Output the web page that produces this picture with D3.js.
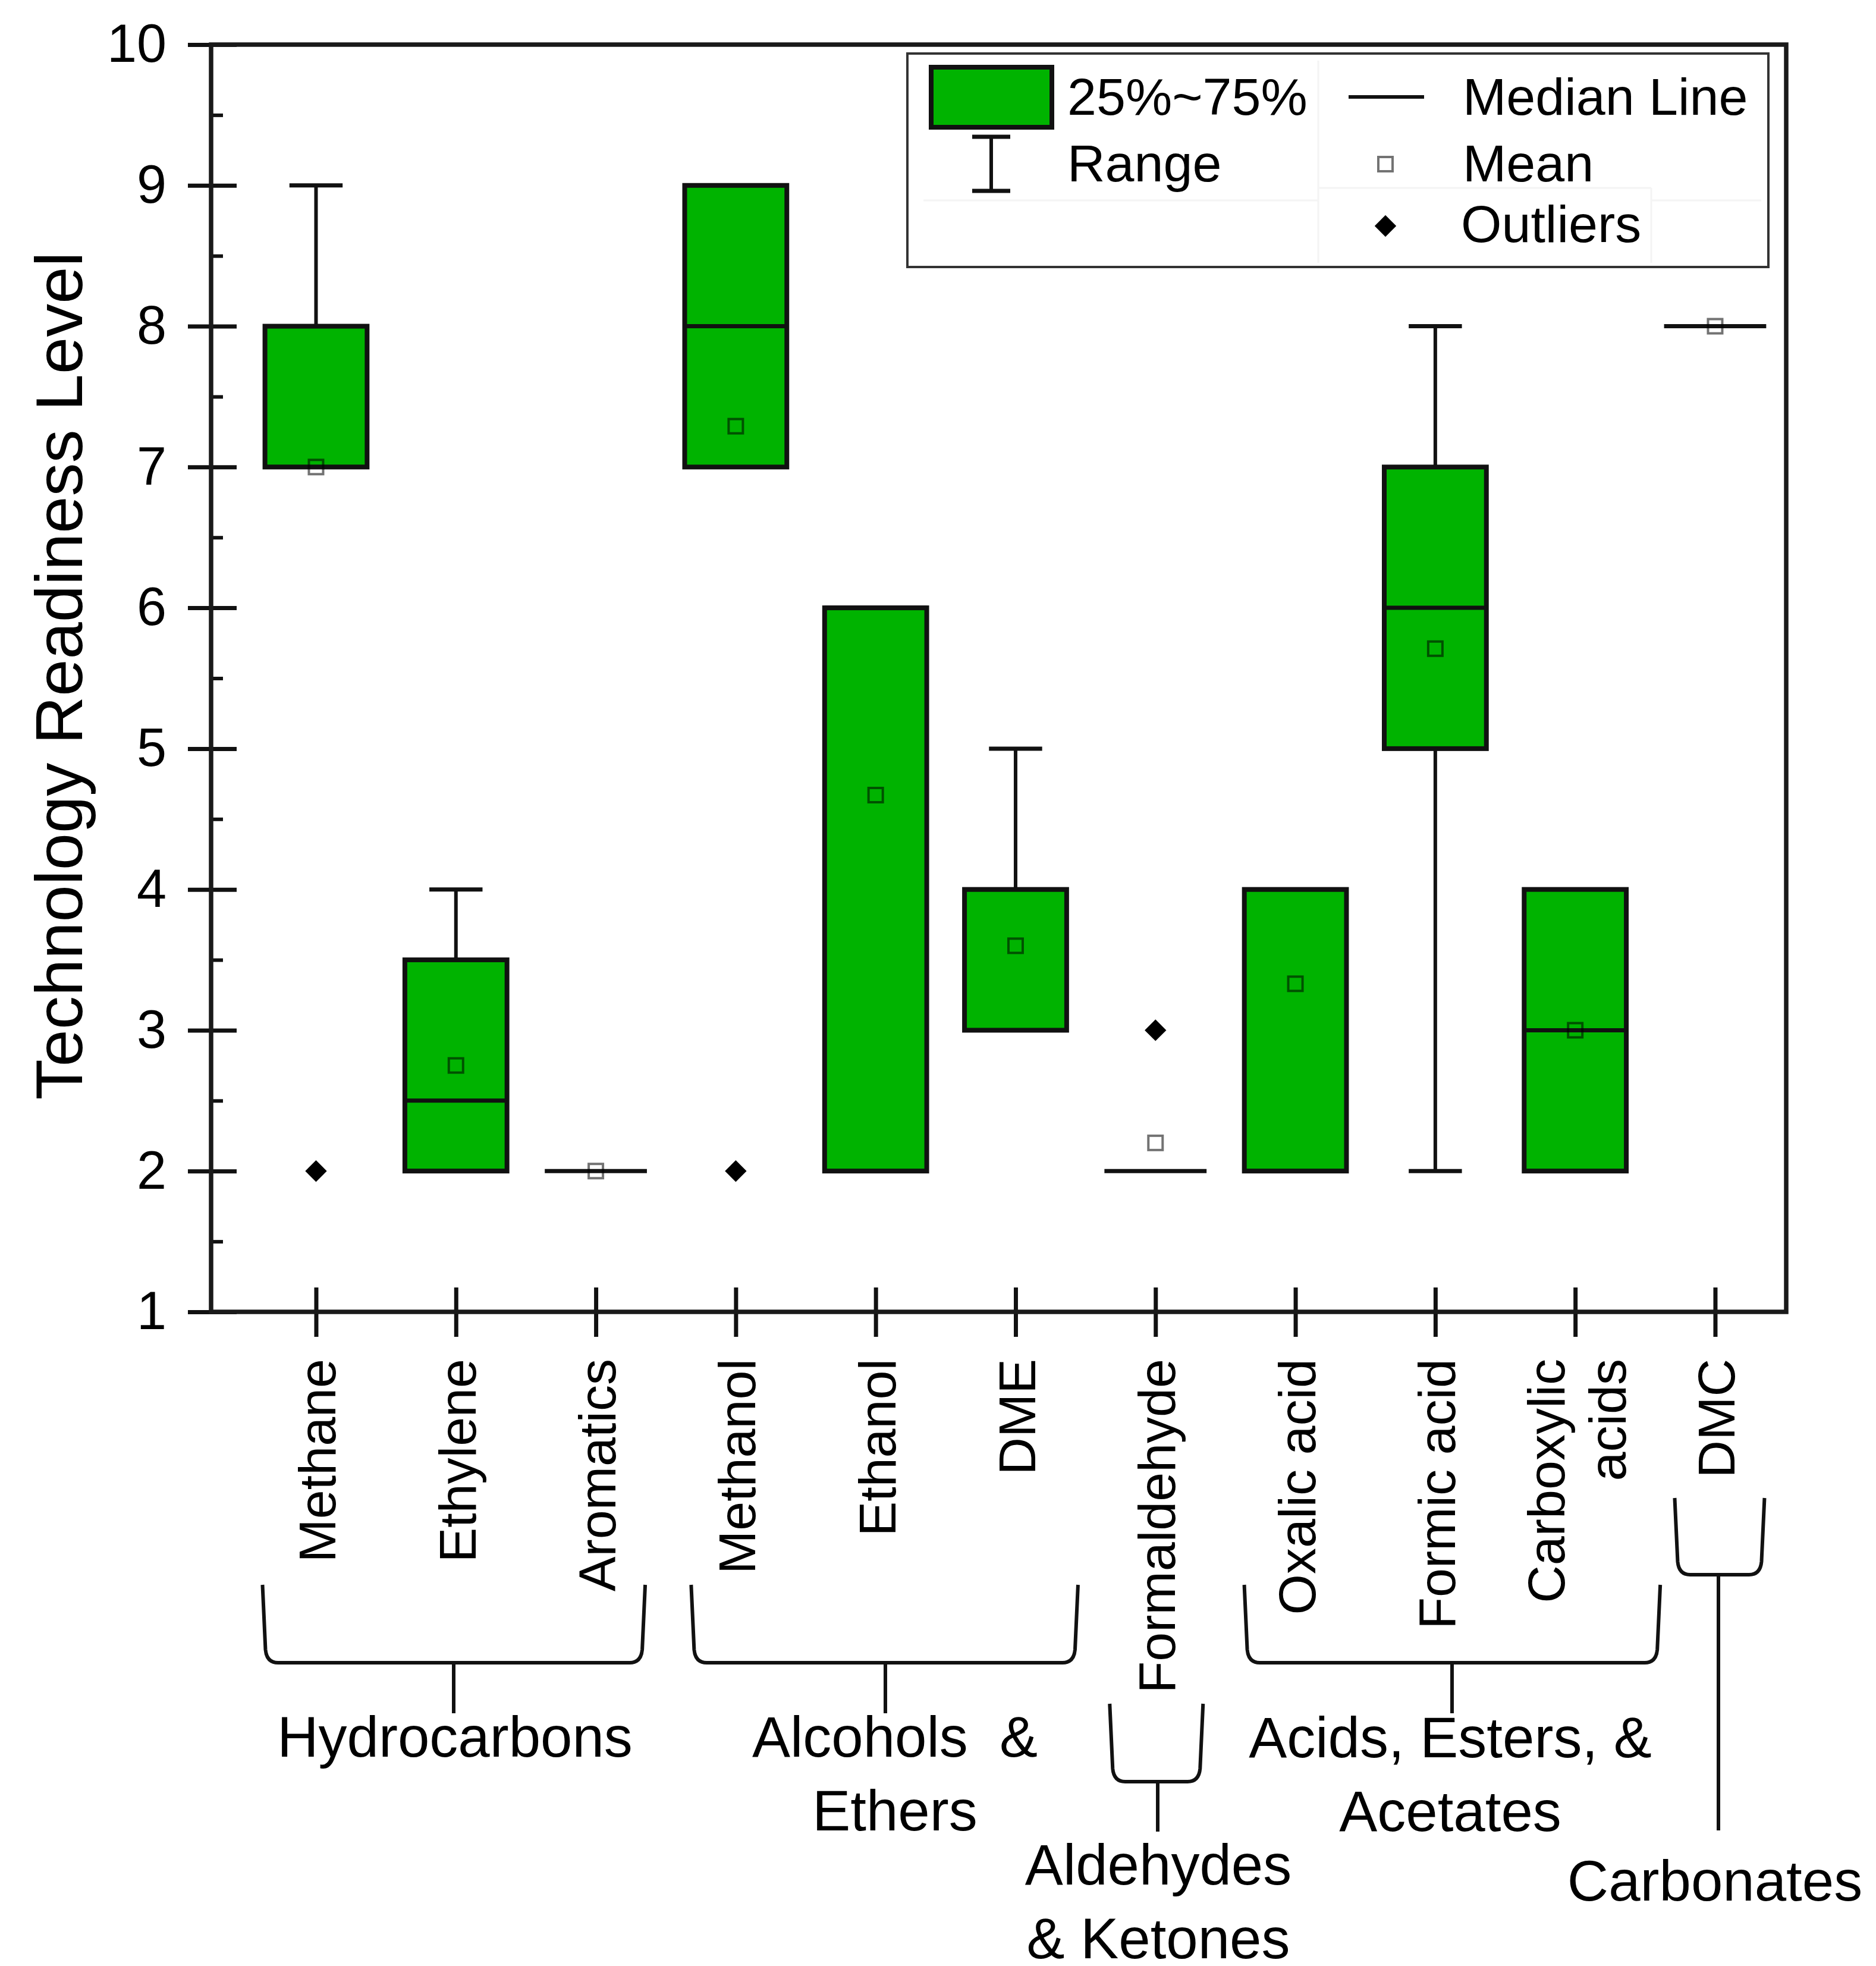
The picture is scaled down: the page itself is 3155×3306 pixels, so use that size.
<!DOCTYPE html>
<html>
<head>
<meta charset="utf-8">
<script src="https://cdn.jsdelivr.net/npm/d3@7"></script>
<style>
  body { margin: 0; background: #fff; }
  text { font-family: "Liberation Sans", Arial, sans-serif; fill: #000; }
</style>
</head>
<body>
<svg id="chart" width="3155" height="3306"></svg>
<script>
// categories and box statistics
const categories = ["Methane", "Ethylene", "Aromatics", "Methanol", "Ethanol", "DME",
  "Formaldehyde", "Oxalic acid", "Formic acid", "Carboxylic acids", "DMC"];
const q1 = [7, 2, 2, 7, 2, 3, 2, 2, 5, 2, 8];
const q3 = [8, 3.5, 2, 9, 6, 4, 2, 4, 7, 4, 8];
const medians = [7, 2.5, 2, 8, 6, 4, 2, 4, 6, 3, 8];
const rangeLow = [7, 2, 2, 7, 2, 3, 2, 2, 2, 2, 8];
const rangeHigh = [9, 4, 2, 9, 6, 5, 2, 4, 8, 4, 8];
const means = [7, 2.75, 2, 7.29, 4.67, 3.6, 2.2, 3.33, 5.71, 3, 8];
const outlierCats = ["Methane", "Methanol", "Formaldehyde"];
const outlierValues = [2, 2, 3];

const groupNames = ["Hydrocarbons", "Alcohols  & Ethers", "Aldehydes & Ketones",
  "Acids, Esters, & Acetates", "Carbonates"];
const groupLines = [["Hydrocarbons"], ["Alcohols  &", "Ethers"], ["Aldehydes", "& Ketones"],
  ["Acids, Esters, &", "Acetates"], ["Carbonates"]];
const groupFirst = ["Methane", "Methanol", "Formaldehyde", "Oxalic acid", "DMC"];
const groupLast = ["Aromatics", "DME", "Formaldehyde", "Carboxylic acids", "DMC"];

const yTicks = [1, 2, 3, 4, 5, 6, 7, 8, 9, 10];
const yMinor = [1.5, 2.5, 3.5, 4.5, 5.5, 6.5, 7.5, 8.5, 9.5];

// layout
const svg = d3.select("#chart");
const plotLeft = 355, plotRight = 3004, plotTop = 75, plotBottom = 2206;
const green = "#00b300";
const ink = "#111";
const meanStroke = "rgba(0,0,0,0.55)";

const y = d3.scaleLinear().domain([1, 10]).range([plotBottom, plotTop]);
const x = d3.scaleLinear().domain([0.25, 11.508]).range([plotLeft, plotRight]);
const cx = (name) => x(categories.indexOf(name) + 1);
const step = x(2) - x(1);
const boxW = step * 0.73;
const capW = step * 0.38;

// y axis: outward ticks with labels, inward ticks, inward minor ticks
svg.append("g")
  .attr("transform", `translate(${plotLeft},0)`)
  .call(d3.axisLeft(y).tickValues(yTicks).tickSizeInner(39).tickSizeOuter(0).tickPadding(36))
  .call((g) => g.select(".domain").remove())
  .call((g) => g.selectAll("line").attr("stroke", ink).attr("stroke-width", 7))
  .call((g) => g.selectAll("text").attr("font-size", 90).attr("fill", "#000")
    .attr("font-family", "Liberation Sans, Arial, sans-serif"));

svg.append("g")
  .attr("transform", `translate(${plotLeft},0)`)
  .call(d3.axisRight(y).tickValues(yTicks).tickSizeInner(43).tickSizeOuter(0).tickFormat(""))
  .call((g) => g.select(".domain").remove())
  .call((g) => g.selectAll("line").attr("stroke", ink).attr("stroke-width", 7));

svg.append("g")
  .attr("transform", `translate(${plotLeft},0)`)
  .call(d3.axisRight(y).tickValues(yMinor).tickSizeInner(20).tickSizeOuter(0).tickFormat(""))
  .call((g) => g.select(".domain").remove())
  .call((g) => g.selectAll("line").attr("stroke", ink).attr("stroke-width", 6));

// x axis ticks crossing the axis line
const xIdx = categories.map((d, i) => i + 1);
svg.append("g")
  .attr("transform", `translate(0,${plotBottom})`)
  .call(d3.axisBottom(x).tickValues(xIdx).tickSizeInner(42).tickSizeOuter(0).tickFormat(""))
  .call((g) => g.select(".domain").remove())
  .call((g) => g.selectAll("line").attr("stroke", ink).attr("stroke-width", 7));
svg.append("g")
  .attr("transform", `translate(0,${plotBottom})`)
  .call(d3.axisTop(x).tickValues(xIdx).tickSizeInner(41).tickSizeOuter(0).tickFormat(""))
  .call((g) => g.select(".domain").remove())
  .call((g) => g.selectAll("line").attr("stroke", ink).attr("stroke-width", 7));

// frame
svg.append("rect")
  .attr("x", plotLeft).attr("y", plotTop)
  .attr("width", plotRight - plotLeft).attr("height", plotBottom - plotTop)
  .attr("fill", "none").attr("stroke", "#1a1a1a").attr("stroke-width", 7.5);

// y title
svg.append("text")
  .attr("transform", `translate(138,${(plotTop + plotBottom) / 2 - 4}) rotate(-90)`)
  .attr("text-anchor", "middle")
  .attr("font-size", 112)
  .text("Technology Readiness Level");

// rotated category labels
const labelEnd = 2285;
categories.forEach((name) => {
  const lines = name === "Carboxylic acids" ? ["Carboxylic", "acids"] : [name];
  const g = svg.append("g").attr("transform", `translate(${cx(name)},${labelEnd}) rotate(-90)`);
  lines.forEach((ln, k) => {
    g.append("text")
      .attr("text-anchor", "end")
      .attr("x", 0)
      .attr("y", 33 + (k - (lines.length - 1) / 2) * 103)
      .attr("font-size", 88)
      .text(ln);
  });
});

// boxes
const boxes = svg.append("g");
categories.forEach((name, i) => {
  const c = cx(name);
  // whiskers
  [[q3[i], rangeHigh[i]], [q1[i], rangeLow[i]]].forEach(([from, to]) => {
    if (to === from) return;
    boxes.append("line").attr("x1", c).attr("x2", c).attr("y1", y(from)).attr("y2", y(to))
      .attr("stroke", ink).attr("stroke-width", 6);
    boxes.append("line").attr("x1", c - capW / 2).attr("x2", c + capW / 2)
      .attr("y1", y(to)).attr("y2", y(to))
      .attr("stroke", ink).attr("stroke-width", 7);
  });
  boxes.append("rect")
    .attr("x", c - boxW / 2).attr("width", boxW)
    .attr("y", y(q3[i])).attr("height", y(q1[i]) - y(q3[i]))
    .attr("fill", green).attr("stroke", ink).attr("stroke-width", 8);
  boxes.append("line")
    .attr("x1", c - boxW / 2).attr("x2", c + boxW / 2)
    .attr("y1", y(medians[i])).attr("y2", y(medians[i]))
    .attr("stroke", ink).attr("stroke-width", 7);
  boxes.append("rect")
    .attr("x", c - 12).attr("y", y(means[i]) - 12)
    .attr("width", 24).attr("height", 24)
    .attr("fill", "none").attr("stroke", meanStroke).attr("stroke-width", 4);
});

// outliers
const diamond = d3.symbol(d3.symbolSquare, 660);
outlierCats.forEach((name, k) => {
  svg.append("path")
    .attr("d", diamond())
    .attr("transform", `translate(${cx(name)},${y(outlierValues[k])}) rotate(45)`)
    .attr("fill", "#000");
});

// group brackets
const bracketTop = [2665, 2665, 2865, 2665, 2519];
const bracketBottom = [2796, 2796, 2996, 2796, 2648];
const padL = [90, 75, 77, 86, 68];
const padR = [83, 105, 80, 143, 83];
const stemBottom = [2881, 2881, 3080, 2881, 3078];
const stemX = [763, 1489, 1947, 2442, 2890];
const labelX = [765, 1505, 1948, 2439, 2884];
const labelBase = [2954, 2954, 3169, 2955, 3196];
groupNames.forEach((gname, k) => {
  const l = cx(groupFirst[k]) - padL[k];
  const r = cx(groupLast[k]) + padR[k];
  const t = bracketTop[k], b = bracketBottom[k];
  const p = d3.path();
  p.moveTo(l, t);
  p.lineTo(l + 5, b - 22);
  p.quadraticCurveTo(l + 7, b, l + 26, b);
  p.lineTo(r - 26, b);
  p.quadraticCurveTo(r - 7, b, r - 5, b - 22);
  p.lineTo(r, t);
  svg.append("path").attr("d", p.toString())
    .attr("fill", "none").attr("stroke", ink).attr("stroke-width", 6);
  svg.append("line").attr("x1", stemX[k]).attr("x2", stemX[k])
    .attr("y1", b).attr("y2", stemBottom[k])
    .attr("stroke", ink).attr("stroke-width", 6);
  groupLines[k].forEach((ln, j) => {
    svg.append("text")
      .attr("x", labelX[k]).attr("y", labelBase[k] + j * 124)
      .attr("text-anchor", "middle")
      .attr("font-size", 96)
      .style("white-space", "pre")
      .text(ln);
  });
});

// legend
const lg = svg.append("g");
lg.append("rect").attr("x", 1526).attr("y", 90).attr("width", 1448).attr("height", 359)
  .attr("fill", "#fff").attr("stroke", "#333").attr("stroke-width", 4);
// faint cell borders
[[2217, 102, 2217, 442], [1553, 337, 2217, 337], [2217, 316, 2777, 316],
 [2777, 316, 2777, 442], [2777, 337, 2962, 337]].forEach(([x1, y1, x2, y2]) => {
  lg.append("line").attr("x1", x1).attr("y1", y1).attr("x2", x2).attr("y2", y2)
    .attr("stroke", "#f4f4f4").attr("stroke-width", 3);
});
lg.append("rect").attr("x", 1566).attr("y", 113).attr("width", 203).attr("height", 101)
  .attr("fill", green).attr("stroke", ink).attr("stroke-width", 8);
lg.append("line").attr("x1", 1667).attr("x2", 1667).attr("y1", 230).attr("y2", 321)
  .attr("stroke", ink).attr("stroke-width", 6);
lg.append("line").attr("x1", 1635).attr("x2", 1699).attr("y1", 230).attr("y2", 230)
  .attr("stroke", ink).attr("stroke-width", 7);
lg.append("line").attr("x1", 1635).attr("x2", 1699).attr("y1", 321).attr("y2", 321)
  .attr("stroke", ink).attr("stroke-width", 7);
lg.append("line").attr("x1", 2268).attr("x2", 2395).attr("y1", 163).attr("y2", 163)
  .attr("stroke", ink).attr("stroke-width", 6);
lg.append("rect").attr("x", 2318).attr("y", 264).attr("width", 24).attr("height", 24)
  .attr("fill", "none").attr("stroke", meanStroke).attr("stroke-width", 4);
lg.append("path").attr("d", diamond())
  .attr("transform", "translate(2330,380) rotate(45)").attr("fill", "#000");
[["25%~75%", 1795, 193], ["Range", 1795, 305], ["Median Line", 2460, 193],
 ["Mean", 2460, 305], ["Outliers", 2457, 407]].forEach(([t, tx, ty]) => {
  lg.append("text").attr("x", tx).attr("y", ty).attr("font-size", 88).text(t);
});
</script>
</body>
</html>
